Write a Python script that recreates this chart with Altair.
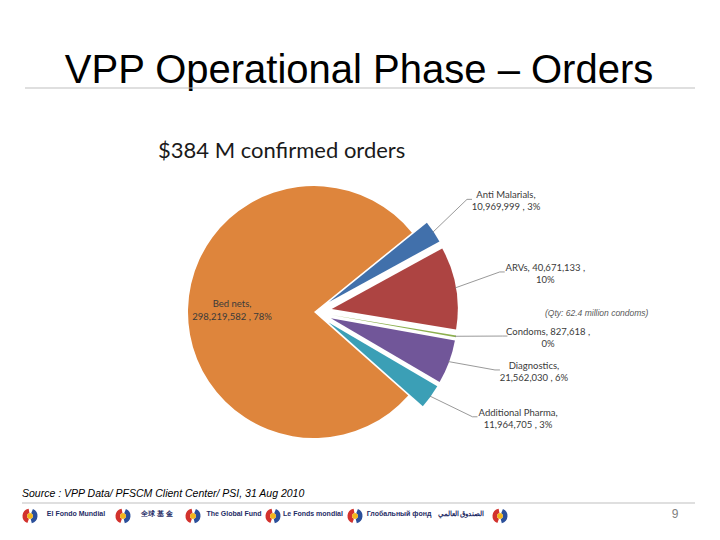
import math
import altair as alt
import pandas as pd

# ---------------- data ----------------
categories = ["Anti Malarials", "ARVs", "Condoms", "Diagnostics", "Additional Pharma", "Bed nets"]
values = [10969999, 40671133, 827618, 21562030, 11964705, 298219582]
percent_labels = [3, 10, 0, 6, 3, 78]
slice_colors = ["#4170ab", "#ad4442", "#8db04f", "#715699", "#3b9fb6", "#de853c"]
exploded = [1, 1, 1, 1, 1, 0]
condom_note = "(Qty: 62.4 million condoms)"
title_text = "VPP Operational Phase \u2013 Orders"
source_text = "Source : VPP Data/ PFSCM Client Center/ PSI, 31 Aug 2010"
logo_names = ["El Fondo Mundial", "全球 基 金", "The Global Fund", "Le Fonds mondial",
              "Глобальный фонд", "الصندوق العالمي"]
page_number = "9"

total = sum(values)
subtitle_text = f"${round(total / 1e6)} M confirmed orders"


def label_lines(name, v, pct):
    if len(name) <= 7:
        return f"{name}, {v:,} ,", f"{pct}%"
    return f"{name},", f"{v:,} , {pct}%"


l1, l2 = zip(*[label_lines(n, v, p) for n, v, p in zip(categories, values, percent_labels)])
df = pd.DataFrame({
    "order": list(range(len(categories))),
    "category": categories,
    "value": values,
    "explode": exploded,
    "l1": list(l1),
    "l2": list(l2),
})

# ---------------- layout (plot-area pixels) ----------------
W, H = 704, 524
CX, CY = 306, 304          # pie centre
R = 126                    # pie radius
D = 18                     # explosion distance
START = math.radians(51)   # first slice angle
RL = 190                   # label anchor radius
SHIFT = math.radians(-2.5)
CW = 4.4                   # approx char width of label font
FONT = "Lato"

base = alt.Chart(df).transform_window(
    cum1="sum(value)", sort=[alt.SortField("order")], frame=[None, 0]
).transform_calculate(
    cum0="datum.cum1 - datum.value",
    mid=f"{START} + 2*PI*(datum.cum1 - datum.value/2)/{total}",
).transform_calculate(
    ex=f"{CX} + datum.explode*{D}*sin(datum.mid)",
    ey=f"{CY} - datum.explode*{D}*cos(datum.mid)",
    la=f"datum.mid + {SHIFT}",
).transform_calculate(
    sx=f"datum.ex + {R - 1}*sin(datum.mid)",
    sy=f"datum.ey - {R - 1}*cos(datum.mid)",
    lx=f"{CX} + {RL}*sin(datum.la)",
    ly=f"{CY} - {RL}*cos(datum.la)",
).transform_calculate(
    lx5="datum.lx + 5",
    tx=f"datum.explode ? datum.lx + 6 + max(length(datum.l1), length(datum.l2))*{CW}/2 "
       f": {CX} + {0.65 * R}*sin(datum.mid)",
    ty1=f"datum.explode ? datum.ly - 4 : {CY} - {0.65 * R}*cos(datum.mid) - 6",
    ty2=f"datum.explode ? datum.ly + 8 : {CY} - {0.65 * R}*cos(datum.mid) + 7",
)

pie = base.mark_arc(radius=R).encode(
    theta=alt.Theta("cum0:Q", stack=None,
                    scale=alt.Scale(domain=[0, total], range=[START, START + 2 * math.pi])),
    theta2="cum1:Q",
    x=alt.X("ex:Q", scale=None, stack=None),
    y=alt.Y("ey:Q", scale=None, stack=None),
    color=alt.Color("category:N", scale=alt.Scale(domain=categories, range=slice_colors),
                    legend=None),
)

lead = base.transform_filter("datum.explode == 1").mark_rule(
    color="#7f7f7f", strokeWidth=0.8
).encode(
    x=alt.X("sx:Q", scale=None), y=alt.Y("sy:Q", scale=None),
    x2="lx:Q", y2="ly:Q",
)
lead2 = base.transform_filter("datum.explode == 1").mark_rule(
    color="#7f7f7f", strokeWidth=0.8
).encode(
    x=alt.X("lx:Q", scale=None), x2="lx5:Q", y=alt.Y("ly:Q", scale=None),
)

lab1 = base.mark_text(font=FONT, fontSize=9.5, color="#3a3a3a", align="center",
                      baseline="middle").encode(
    x=alt.X("tx:Q", scale=None), y=alt.Y("ty1:Q", scale=None), text="l1:N")
lab2 = base.mark_text(font=FONT, fontSize=9.5, color="#3a3a3a", align="center",
                      baseline="middle").encode(
    x=alt.X("tx:Q", scale=None), y=alt.Y("ty2:Q", scale=None), text="l2:N")


def txt(text, x, y, **kw):
    return alt.Chart(pd.DataFrame({"t": [text]})).mark_text(**kw).encode(
        x=alt.value(x), y=alt.value(y), text="t:N")


def hline(x1, x2, y, color="#bfbfbf"):
    return alt.Chart(pd.DataFrame({"a": [0]})).mark_rule(color=color, strokeWidth=1).encode(
        x=alt.value(x1), x2=alt.value(x2), y=alt.value(y))


title = txt(title_text, 351, 75, font="Liberation Sans", fontSize=40, color="#000000",
            align="center", baseline="alphabetic")
subtitle = txt(subtitle_text, 150, 150, font=FONT, fontSize=22, color="#1a1a1a",
               align="left", baseline="alphabetic")
note = txt(condom_note, 537, 305, font="Liberation Sans", fontSize=8.5, fontStyle="italic",
           color="#595959", align="left", baseline="middle")
source = txt(source_text, 14, 489, font="Liberation Sans", fontSize=10.5, fontStyle="italic",
             color="#000000", align="left", baseline="alphabetic")
pnum = txt(page_number, 667, 506, font="Liberation Sans", fontSize=12, color="#7f7f7f",
           align="center", baseline="middle")

# footer logos (decorative)
logo_x = [22, 115, 185, 265, 347, 492]
name_x = [68, 149, 226, 305, 391, 453]
logo_df = pd.DataFrame({"lx": logo_x})
names_df = pd.DataFrame({"nx": name_x, "name": logo_names})


def swirl(r1, r2, t1, t2, color):
    kw = dict(radius=r1, theta=t1, theta2=t2, color=color)
    if r2:
        kw["radius2"] = r2
    return alt.Chart(logo_df).mark_arc(**kw).encode(
        x=alt.X("lx:Q", scale=None, stack=None), y=alt.value(508))


names = alt.Chart(names_df).mark_text(font="Liberation Sans", fontSize=7, fontWeight="bold",
                                      color="#1f2d66", align="center",
                                      baseline="middle").encode(
    x=alt.X("nx:Q", scale=None, stack=None), y=alt.value(506), text="name:N")

chart = alt.layer(
    pie, lead, lead2, lab1, lab2,
    title, hline(17, 687, 80), subtitle, note, source, hline(14, 687, 495), pnum,
    swirl(7.5, 3, 3.5, 6.1, "#d2322d"), swirl(7.5, 3, 0.4, 2.9, "#2b4f9a"),
    swirl(3, 0, 0, 6.283, "#f2b51c"), names,
).properties(
    width=W, height=H, padding=0,
    autosize=alt.AutoSizeParams(type="none"),
).configure_view(stroke=None)

chart.save("out.html", embed_options={"renderer": "svg", "actions": False})
